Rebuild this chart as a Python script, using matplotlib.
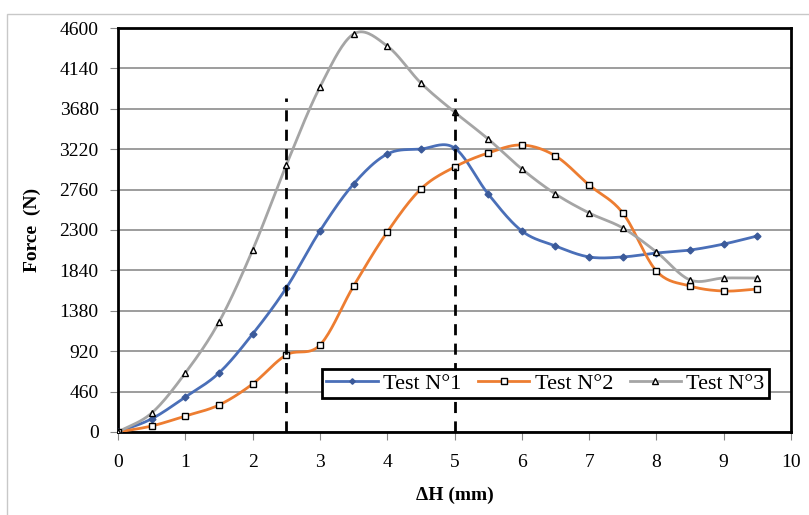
import matplotlib.pyplot as plt
import numpy as np
from matplotlib.patches import Rectangle

plt.rcParams['font.family'] = ['Liberation Serif', 'DejaVu Serif']

# data ---------------------------------------------------------------
dh = [0, 0.5, 1, 1.5, 2, 2.5, 3, 3.5, 4, 4.5, 5, 5.5, 6, 6.5, 7, 7.5, 8, 8.5, 9, 9.5]
test1 = [0, 150, 398, 672, 1116, 1640, 2289, 2824, 3165, 3222, 3234, 2710, 2289,
         2118, 1993, 1993, 2038, 2072, 2140, 2232]
test2 = [0, 68, 182, 307, 547, 877, 990, 1662, 2277, 2767, 3017, 3177, 3268,
         3143, 2812, 2494, 1833, 1662, 1605, 1628]
test3 = [0, 216, 672, 1252, 2072, 3040, 3928, 4532, 4395, 3974, 3643, 3336, 2995,
         2710, 2494, 2323, 2050, 1731, 1753, 1753]
limits_x = [2.5, 5]
limits_top = 3800
yticks = [0, 460, 920, 1380, 1840, 2300, 2760, 3220, 3680, 4140, 4600]


def smooth(x, y, n=20):
    # Catmull-Rom curve, like Excel's "smoothed line"
    x = np.asarray(x, float)
    y = np.asarray(y, float)
    px = np.concatenate([[2 * x[0] - x[1]], x, [2 * x[-1] - x[-2]]])
    py = np.concatenate([[2 * y[0] - y[1]], y, [2 * y[-1] - y[-2]]])
    xs, ys = [], []
    t = np.linspace(0, 1, n, endpoint=False)
    for i in range(1, len(px) - 2):
        for p, out in ((px, xs), (py, ys)):
            p0, p1, p2, p3 = p[i - 1], p[i], p[i + 1], p[i + 2]
            out.extend(0.5 * (2 * p1 + (-p0 + p2) * t + (2 * p0 - 5 * p1 + 4 * p2 - p3) * t ** 2
                              + (-p0 + 3 * p1 - 3 * p2 + p3) * t ** 3))
    xs.append(x[-1])
    ys.append(y[-1])
    return xs, ys


fig = plt.figure(figsize=(8.09, 5.15), dpi=100)
fig.patches.append(Rectangle((7 / 809, -0.1), 1.2, 1.1 - 14 / 515, transform=fig.transFigure,
                             fill=False, edgecolor='#c8c8c8', lw=1))
ax = fig.add_axes([0.1459, 0.1612, 0.8319, 0.7844])

series = [
    (test1, 'Test N°1', '#4a6fb8', 'D', '#3b5a9a', '#3b5a9a', 3.5),
    (test2, 'Test N°2', '#ed7d31', 's', 'white', 'black', 5),
    (test3, 'Test N°3', '#a5a5a5', '^', 'white', 'black', 5),
]
for vals, name, col, mk, mfc, mec, ms in series:
    sx, sy = smooth(dh, vals)
    ax.plot(sx, sy, color=col, lw=2, zorder=3)
    ax.plot(dh, vals, ls='none', marker=mk, mfc=mfc, mec=mec, ms=ms, mew=1, zorder=4)
    ax.plot([], [], color=col, lw=2, marker=mk, mfc=mfc, mec=mec, ms=ms * 0.8, mew=1, label=name)

for xv in limits_x:
    ax.plot([xv, xv], [0, limits_top], color='black', ls=(0, (4, 3)), lw=2, zorder=5)

ax.set_xlim(0, 10)
ax.set_ylim(0, 4600)
ax.set_xticks(range(0, 11))
ax.set_yticks(yticks)
ax.tick_params(labelsize=14, direction='out', length=6, color='#888888')
ax.tick_params(axis='x', pad=10)
ax.tick_params(axis='y', pad=8)
ax.grid(axis='y', color='#8c8c8c', lw=1.2)
ax.set_axisbelow(True)
for s in ax.spines.values():
    s.set_linewidth(2)
    s.set_color('black')

ax.set_xlabel('ΔH (mm)', fontsize=14, fontweight='bold', labelpad=11)
ax.set_ylabel('Force  (N)', fontsize=14, fontweight='bold', labelpad=13)

leg = ax.legend(loc='lower left', bbox_to_anchor=(0.303, 0.084), ncol=3, fontsize=16,
                frameon=True, fancybox=False, edgecolor='black', framealpha=1,
                handlelength=2.3, handletextpad=0.25, columnspacing=0.75, borderpad=0.2,
                borderaxespad=0)
leg.get_frame().set_linewidth(2)

plt.savefig('out.png', dpi=100)
